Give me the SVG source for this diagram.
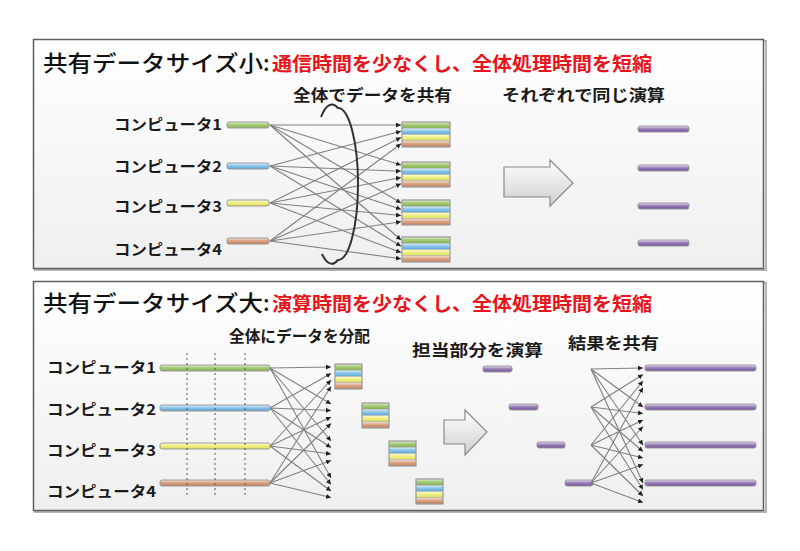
<svg xmlns="http://www.w3.org/2000/svg" width="800" height="551" viewBox="0 0 800 551">
<defs>
<linearGradient id="bg" x1="0" y1="0" x2="0" y2="1"><stop offset="0" stop-color="#ffffff"/><stop offset="1" stop-color="#efefef"/></linearGradient>
<linearGradient id="gG" x1="0" y1="0" x2="0" y2="1"><stop offset="0" stop-color="#e4f0d4"/><stop offset="0.45" stop-color="#a6cb78"/><stop offset="1" stop-color="#86b050"/></linearGradient>
<linearGradient id="gB" x1="0" y1="0" x2="0" y2="1"><stop offset="0" stop-color="#e0f0fb"/><stop offset="0.45" stop-color="#8ec6ea"/><stop offset="1" stop-color="#5aa5d8"/></linearGradient>
<linearGradient id="gY" x1="0" y1="0" x2="0" y2="1"><stop offset="0" stop-color="#fbfbd8"/><stop offset="0.45" stop-color="#f0f088"/><stop offset="1" stop-color="#dcdc50"/></linearGradient>
<linearGradient id="gO" x1="0" y1="0" x2="0" y2="1"><stop offset="0" stop-color="#f6e2d6"/><stop offset="0.45" stop-color="#dca484"/><stop offset="1" stop-color="#c07e58"/></linearGradient>
<linearGradient id="gP" x1="0" y1="0" x2="0" y2="1"><stop offset="0" stop-color="#ece4f4"/><stop offset="0.45" stop-color="#9a80bc"/><stop offset="1" stop-color="#6f5096"/></linearGradient>
<linearGradient id="gA" x1="0" y1="0" x2="0" y2="1"><stop offset="0" stop-color="#ffffff"/><stop offset="1" stop-color="#cfcfcf"/></linearGradient>
<marker id="ah" viewBox="0 0 6 6" refX="6" refY="3" markerWidth="5" markerHeight="5" markerUnits="userSpaceOnUse" orient="auto"><path d="M0,0 L6,3 L0,6 z" fill="#222"/></marker>
<g id="stk48">
<rect x="0" y="0" width="48" height="6.25" fill="url(#gG)" stroke="#b0b0b0" stroke-width="0.6"/>
<rect x="0" y="6.25" width="48" height="6.25" fill="url(#gB)" stroke="#b0b0b0" stroke-width="0.6"/>
<rect x="0" y="12.5" width="48" height="6.25" fill="url(#gY)" stroke="#b0b0b0" stroke-width="0.6"/>
<rect x="0" y="18.75" width="48" height="6.25" fill="url(#gO)" stroke="#b0b0b0" stroke-width="0.6"/>
<rect x="0" y="0" width="48" height="25" fill="none" stroke="#999" stroke-width="1"/>
</g>
<g id="stk27">
<rect x="0" y="0" width="27" height="6.25" fill="url(#gG)" stroke="#b0b0b0" stroke-width="0.6"/>
<rect x="0" y="6.25" width="27" height="6.25" fill="url(#gB)" stroke="#b0b0b0" stroke-width="0.6"/>
<rect x="0" y="12.5" width="27" height="6.25" fill="url(#gY)" stroke="#b0b0b0" stroke-width="0.6"/>
<rect x="0" y="18.75" width="27" height="6.25" fill="url(#gO)" stroke="#b0b0b0" stroke-width="0.6"/>
<rect x="0" y="0" width="27" height="25" fill="none" stroke="#999" stroke-width="1"/>
</g>
</defs>
<style>
.panel{fill:url(#bg);stroke:#5e5e5e;stroke-width:1.5}
.shadow{fill:none;stroke:#b5b5b5;stroke-width:2}
.ttl{font-family:"Noto Sans CJK JP","Noto Sans CJK SC",sans-serif;font-size:22px;font-weight:500;fill:#111}
.red{font-family:"Noto Sans CJK JP","Noto Sans CJK SC",sans-serif;font-size:19px;font-weight:bold;fill:#e8141c}
.lbl{font-family:"Noto Sans CJK JP","Noto Sans CJK SC",sans-serif;font-size:15px;font-weight:bold;fill:#1a1a1a}
.cap{font-family:"Noto Sans CJK JP","Noto Sans CJK SC",sans-serif;font-size:16px;font-weight:bold;fill:#1a1a1a}
.bar{stroke:#9a9a9a;stroke-width:1}
.c{stroke:#808080;stroke-width:1.1;fill:none;marker-end:url(#ah)}
.dot{stroke:#555;stroke-width:1;stroke-dasharray:2,3}
.barrow{fill:url(#gA);stroke:#8a8a8a;stroke-width:1.2}
</style>

<!-- panels -->
<rect class="shadow" x="35" y="41" width="731" height="229"/>
<rect id="panel-top" class="panel" x="33.5" y="39.5" width="730" height="229"/>
<rect class="shadow" x="35" y="283" width="731" height="229"/>
<rect id="panel-bottom" class="panel" x="33.5" y="281.5" width="730" height="229"/>

<!-- titles -->
<g id="title-top">
<text class="ttl" x="43" y="71" textLength="220" lengthAdjust="spacingAndGlyphs">共有データサイズ小</text>
<text class="ttl" x="263" y="71">:</text>
<text class="red" x="272" y="71" textLength="380" lengthAdjust="spacingAndGlyphs">通信時間を少なくし、全体処理時間を短縮</text>
</g>
<g id="title-bottom">
<text class="ttl" x="43" y="311" textLength="220" lengthAdjust="spacingAndGlyphs">共有データサイズ大</text>
<text class="ttl" x="263" y="311">:</text>
<text class="red" x="272" y="311" textLength="380" lengthAdjust="spacingAndGlyphs">演算時間を少なくし、全体処理時間を短縮</text>
</g>

<!-- top panel captions -->
<text class="cap" x="293" y="101" textLength="159" lengthAdjust="spacingAndGlyphs">全体でデータを共有</text>
<text class="cap" x="502" y="101" textLength="163" lengthAdjust="spacingAndGlyphs">それぞれで同じ演算</text>

<!-- top panel computers -->
<g id="t-pc1"><text class="lbl" x="114" y="130" textLength="108" lengthAdjust="spacingAndGlyphs">コンピュータ1</text><rect class="bar" x="227" y="122" width="42" height="6" rx="2" fill="url(#gG)"/></g>
<g id="t-pc2"><text class="lbl" x="114" y="172" textLength="108" lengthAdjust="spacingAndGlyphs">コンピュータ2</text><rect class="bar" x="227" y="163" width="42" height="6" rx="2" fill="url(#gB)"/></g>
<g id="t-pc3"><text class="lbl" x="114" y="212" textLength="108" lengthAdjust="spacingAndGlyphs">コンピュータ3</text><rect class="bar" x="227" y="200" width="42" height="6" rx="2" fill="url(#gY)"/></g>
<g id="t-pc4"><text class="lbl" x="114" y="255" textLength="108" lengthAdjust="spacingAndGlyphs">コンピュータ4</text><rect class="bar" x="227" y="238" width="42" height="6" rx="2" fill="url(#gO)"/></g>

<!-- top stacks -->
<g id="t-stack1"><use href="#stk48" x="402" y="122"/></g>
<g id="t-stack2"><use href="#stk48" x="402" y="162"/></g>
<g id="t-stack3"><use href="#stk48" x="402" y="200"/></g>
<g id="t-stack4"><use href="#stk48" x="402" y="237"/></g>

<!-- top arrow -->
<g id="t-arrow"><path class="barrow" d="M504,167 L550,167 L550,160 L573,183 L550,206 L550,197 L504,197 Z"/></g>

<!-- top results -->
<g id="t-res1"><rect class="bar" x="638" y="126" width="51" height="6" rx="2" fill="url(#gP)"/></g>
<g id="t-res2"><rect class="bar" x="638" y="165" width="51" height="6" rx="2" fill="url(#gP)"/></g>
<g id="t-res3"><rect class="bar" x="638" y="203" width="51" height="6" rx="2" fill="url(#gP)"/></g>
<g id="t-res4"><rect class="bar" x="638" y="240" width="51" height="6" rx="2" fill="url(#gP)"/></g>

<!-- bottom captions -->
<text class="cap" x="229" y="342" textLength="141" lengthAdjust="spacingAndGlyphs">全体にデータを分配</text>
<text class="cap" x="412" y="356" textLength="131" lengthAdjust="spacingAndGlyphs">担当部分を演算</text>
<text class="cap" x="568" y="349" textLength="91" lengthAdjust="spacingAndGlyphs">結果を共有</text>

<!-- bottom computers -->
<g id="b-pc1"><text class="lbl" x="47" y="373" textLength="109" lengthAdjust="spacingAndGlyphs">コンピュータ1</text><rect class="bar" x="160" y="365" width="110" height="6" rx="2" fill="url(#gG)"/></g>
<g id="b-pc2"><text class="lbl" x="47" y="415" textLength="109" lengthAdjust="spacingAndGlyphs">コンピュータ2</text><rect class="bar" x="160" y="405" width="110" height="6" rx="2" fill="url(#gB)"/></g>
<g id="b-pc3"><text class="lbl" x="47" y="456" textLength="109" lengthAdjust="spacingAndGlyphs">コンピュータ3</text><rect class="bar" x="160" y="443" width="110" height="6" rx="2" fill="url(#gY)"/></g>
<g id="b-pc4"><text class="lbl" x="47" y="497" textLength="109" lengthAdjust="spacingAndGlyphs">コンピュータ4</text><rect class="bar" x="160" y="480" width="110" height="6" rx="2" fill="url(#gO)"/></g>

<!-- dotted division lines -->
<g id="b-divisions">
<line class="dot" x1="187" y1="353" x2="187" y2="496"/>
<line class="dot" x1="215" y1="353" x2="215" y2="496"/>
<line class="dot" x1="245" y1="353" x2="245" y2="496"/>
</g>

<!-- bottom stacks -->
<g id="b-stack1"><use href="#stk27" x="335" y="364"/></g>
<g id="b-stack2"><use href="#stk27" x="362" y="403"/></g>
<g id="b-stack3"><use href="#stk27" x="389" y="441"/></g>
<g id="b-stack4"><use href="#stk27" x="416" y="479"/></g>

<!-- bottom arrow -->
<g id="b-arrow"><path class="barrow" d="M444,420 L465,420 L465,410 L487,432 L465,455 L465,444 L444,444 Z"/></g>

<!-- bottom partial results -->
<g id="b-part1"><rect class="bar" x="483" y="366" width="29" height="6" rx="2" fill="url(#gP)"/></g>
<g id="b-part2"><rect class="bar" x="509" y="404" width="29" height="6" rx="2" fill="url(#gP)"/></g>
<g id="b-part3"><rect class="bar" x="537" y="442" width="28" height="6" rx="2" fill="url(#gP)"/></g>
<g id="b-part4"><rect class="bar" x="565" y="480" width="28" height="6" rx="2" fill="url(#gP)"/></g>

<!-- bottom shared results -->
<g id="b-res1"><rect class="bar" x="645" y="365" width="111" height="6" rx="2" fill="url(#gP)"/></g>
<g id="b-res2"><rect class="bar" x="645" y="404" width="111" height="6" rx="2" fill="url(#gP)"/></g>
<g id="b-res3"><rect class="bar" x="645" y="442" width="111" height="6" rx="2" fill="url(#gP)"/></g>
<g id="b-res4"><rect class="bar" x="645" y="480" width="111" height="6" rx="2" fill="url(#gP)"/></g>

<g id="connectors">
<!-- top: all-to-all sharing -->
<line class="c" x1="270" y1="125" x2="401" y2="125"/>
<line class="c" x1="270" y1="125" x2="401" y2="165"/>
<line class="c" x1="270" y1="125" x2="401" y2="203"/>
<line class="c" x1="270" y1="125" x2="401" y2="240"/>
<line class="c" x1="270" y1="166" x2="401" y2="131.25"/>
<line class="c" x1="270" y1="166" x2="401" y2="171.25"/>
<line class="c" x1="270" y1="166" x2="401" y2="209.25"/>
<line class="c" x1="270" y1="166" x2="401" y2="246.25"/>
<line class="c" x1="270" y1="203" x2="401" y2="137.5"/>
<line class="c" x1="270" y1="203" x2="401" y2="177.5"/>
<line class="c" x1="270" y1="203" x2="401" y2="215.5"/>
<line class="c" x1="270" y1="203" x2="401" y2="252.5"/>
<line class="c" x1="270" y1="241" x2="401" y2="143.75"/>
<line class="c" x1="270" y1="241" x2="401" y2="183.75"/>
<line class="c" x1="270" y1="241" x2="401" y2="221.75"/>
<line class="c" x1="270" y1="241" x2="401" y2="258.75"/>
<!-- ring around the sharing lines -->
<path d="M321,117 A20,76 0 0 1 338,108 A20,76 0 0 1 338,260 A20,76 0 0 1 322,254" fill="none" stroke="#333" stroke-width="2"/>
<!-- bottom: distribution -->
<line class="c" x1="270" y1="368" x2="331" y2="367"/>
<line class="c" x1="270" y1="368" x2="331" y2="404"/>
<line class="c" x1="270" y1="368" x2="331" y2="441"/>
<line class="c" x1="270" y1="368" x2="331" y2="478"/>
<line class="c" x1="270" y1="408" x2="331" y2="373.5"/>
<line class="c" x1="270" y1="408" x2="331" y2="410.5"/>
<line class="c" x1="270" y1="408" x2="331" y2="447.5"/>
<line class="c" x1="270" y1="408" x2="331" y2="484.5"/>
<line class="c" x1="270" y1="446" x2="331" y2="380"/>
<line class="c" x1="270" y1="446" x2="331" y2="417"/>
<line class="c" x1="270" y1="446" x2="331" y2="454"/>
<line class="c" x1="270" y1="446" x2="331" y2="491"/>
<line class="c" x1="270" y1="483" x2="331" y2="386.5"/>
<line class="c" x1="270" y1="483" x2="331" y2="423.5"/>
<line class="c" x1="270" y1="483" x2="331" y2="460.5"/>
<line class="c" x1="270" y1="483" x2="331" y2="497.5"/>
<!-- bottom: result sharing -->
<line class="c" x1="591" y1="369" x2="643" y2="368"/>
<line class="c" x1="591" y1="369" x2="643" y2="407"/>
<line class="c" x1="591" y1="369" x2="643" y2="445"/>
<line class="c" x1="591" y1="369" x2="643" y2="483"/>
<line class="c" x1="591" y1="407" x2="643" y2="374.5"/>
<line class="c" x1="591" y1="407" x2="643" y2="413.5"/>
<line class="c" x1="591" y1="407" x2="643" y2="451.5"/>
<line class="c" x1="591" y1="407" x2="643" y2="489.5"/>
<line class="c" x1="591" y1="445" x2="643" y2="381"/>
<line class="c" x1="591" y1="445" x2="643" y2="420"/>
<line class="c" x1="591" y1="445" x2="643" y2="458"/>
<line class="c" x1="591" y1="445" x2="643" y2="496"/>
<line class="c" x1="591" y1="483" x2="643" y2="387.5"/>
<line class="c" x1="591" y1="483" x2="643" y2="426.5"/>
<line class="c" x1="591" y1="483" x2="643" y2="464.5"/>
<line class="c" x1="591" y1="483" x2="643" y2="502.5"/>
</g>
</svg>
